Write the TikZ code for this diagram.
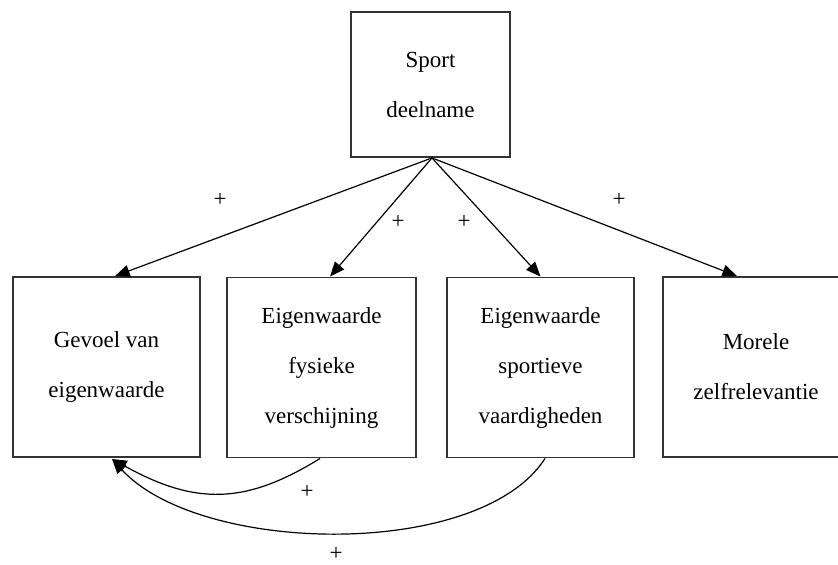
\documentclass[tikz,border=0pt]{standalone}
\usepackage{fontspec}
\setmainfont{Liberation Serif}
\usetikzlibrary{arrows.meta}
\begin{document}
\begin{tikzpicture}[x=0.75pt,y=-0.75pt,
  txt/.style={font=\fontsize{17.25}{37.5}\selectfont, align=center},
  box/.style={draw=black!80, line width=1.4pt, fill=white, txt, inner sep=0pt},
  conn/.style={draw=black, line width=0.9pt, -{Triangle[length=11pt,width=9pt]}},
  pluslbl/.style={font=\fontsize{17.25}{20}\selectfont, inner sep=0pt}]
\clip (0,0) rectangle (838,564);
\fill[white] (0,0) rectangle (838,564);

\node[box, minimum width=119.25pt, minimum height=108.75pt] (top) at (430.5,84.5) {Sport\\deelname};
\node[box, minimum width=140.25pt, minimum height=135pt] (b1) at (106.5,367) {Gevoel van\\eigenwaarde};
\node[box, minimum width=141.75pt, minimum height=135pt] (b2) at (321.5,367.5) {Eigenwaarde\\fysieke\\verschijning};
\node[box, minimum width=140.25pt, minimum height=135pt] (b3) at (540.5,367.5) {Eigenwaarde\\sportieve\\vaardigheden};
\node[box, minimum width=139.5pt, minimum height=135pt] (b4) at (756,367) {Morele\\zelfrelevantie};

\coordinate (o) at ([xshift=1.1pt]top.south);
\coordinate (t1) at ([xshift=6.4pt]b1.north);
\coordinate (t2) at ([xshift=6.4pt]b2.north);
\coordinate (t3) at ([xshift=0pt]b3.north);
\coordinate (t4) at ([xshift=-14.25pt]b4.north);

\draw[conn] (o) -- (t1);
\draw[conn] (o) -- (t2);
\draw[conn] (o) -- (t3);
\draw[conn] (o) -- (t4);

\coordinate (s2) at ([xshift=-1.1pt]b2.south);
\coordinate (s3) at ([xshift=3.4pt]b3.south);
\coordinate (e1) at (112,459);

\draw[conn] (s2) .. controls (245,505) and (195,505) .. (e1);
\draw[conn] (s3) .. controls (480,560) and (200,555) .. (e1);

\node[pluslbl] (p1) at (220,200) {+};
\node[pluslbl] (p2) at (398,222) {+};
\node[pluslbl] (p3) at (464,222) {+};
\node[pluslbl] (p4) at (619,200) {+};
\node[pluslbl] (p5) at (307,492) {+};
\node[pluslbl] (p6) at (336,554) {+};
\end{tikzpicture}
\end{document}
